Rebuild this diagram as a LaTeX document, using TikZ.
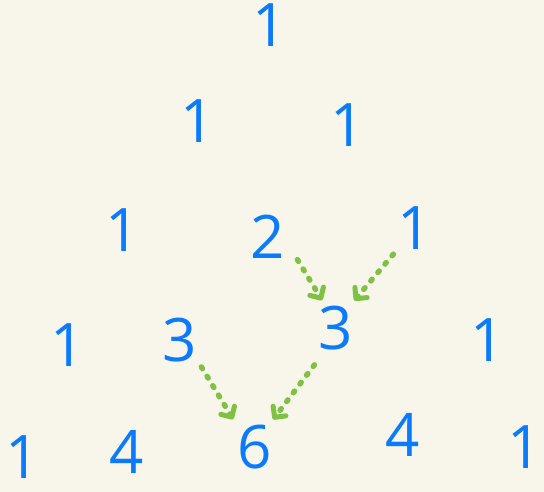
\documentclass[tikz,border=0pt]{standalone}
\usepackage{xcolor}
\usepackage{fontspec}
\usepackage{tikz}
\usetikzlibrary{arrows.meta,positioning}
\setmainfont{Open Sans}
\definecolor{paper}{RGB}{248,246,234}
\definecolor{ink}{RGB}{10,122,255}
\definecolor{leaf}{RGB}{126,194,66}

\begin{document}
\begin{tikzpicture}[
  x=1pt,y=-1pt,
  num/.style={text=ink,font=\fontsize{60}{60}\selectfont,inner sep=3pt},
  arr/.style={draw=leaf,line width=5.5pt,line cap=round,dash pattern=on 2pt off 9pt,
    -{Straight Barb[length=8pt,width=16pt,line width=5pt,round]},shorten <=2pt,shorten >=3pt},
]

% 背景
\fill[paper] (0,0) rectangle (544,492);
\useasboundingbox (0,0) rectangle (544,492);

% 第一行
\node[num] (r0c0) at (270,25) {1};

% 第二行
\node[num] (r1c0) at (198,121) {1};
\node[num] (r1c1) at (348,125) {1};

% 第三行
\node[num] (r2c0) at (123,230) {1};
\node[num] (r2c1) at (268,237) {2};
\node[num] (r2c2) at (415,228) {1};

% 第四行
\node[num] (r3c0) at (68,345) {1};
\node[num] (r3c1) at (180,340) {3};
\node[num] (r3c2) at (336,328) {3};
\node[num] (r3c3) at (488,340) {1};

% 第五行
\node[num,inner sep=0pt] (r4c0) at (23,457) {1};
\node[num] (r4c1) at (127,452) {4};
\node[num] (r4c2) at (255,447) {6};
\node[num] (r4c3) at (403,435) {4};
\node[num,inner sep=0pt] (r4c4) at (525,447) {1};

% 求和箭头
\draw[arr] ([xshift=8pt,yshift=4pt]r2c1.south east) -- ([xshift=8pt]r3c2.north west);
\draw[arr] (r2c2.south west) -- ([xshift=-4pt]r3c2.north east);

\draw[arr] (r3c1.south east) -- (r4c2.north west);
\draw[arr] ([yshift=-10pt]r3c2.south west) -- ([xshift=-4pt]r4c2.north east);

\end{tikzpicture}
\end{document}
